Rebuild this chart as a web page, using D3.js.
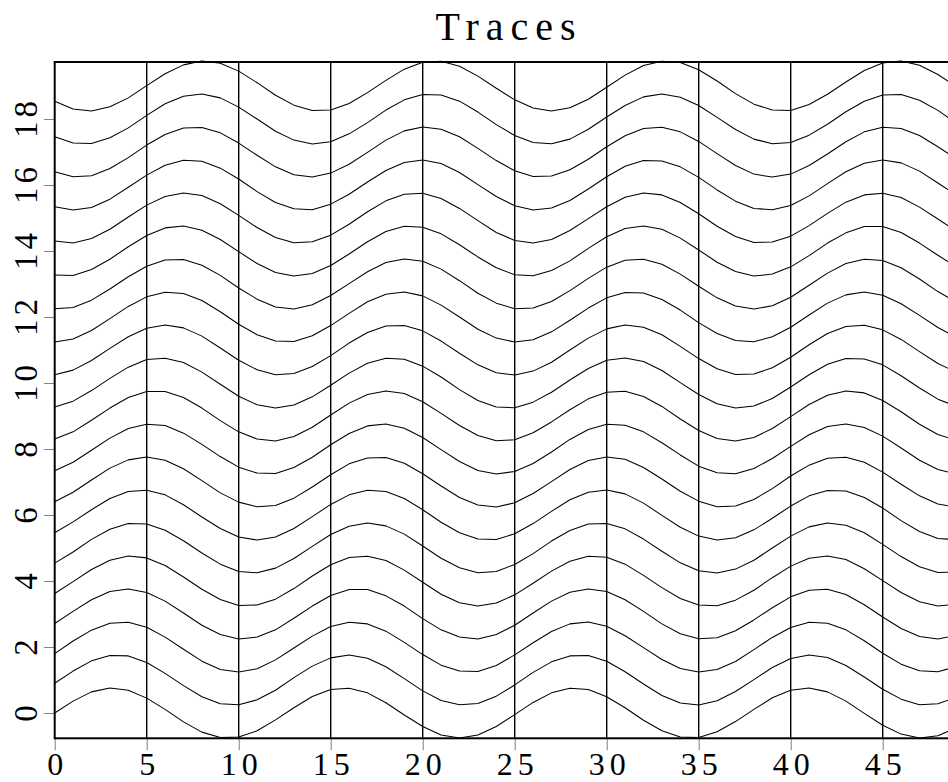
<!DOCTYPE html>
<html><head><meta charset="utf-8">
<script src="https://cdn.jsdelivr.net/npm/d3@7"></script>
<style>html,body{margin:0;padding:0;background:#fff;overflow:hidden}</style>
</head><body><svg id="chart" width="948" height="782"></svg>
<script>
// ---------------- data ----------------
const chartTitle = "Traces";
const xTickValues = [0, 5, 10, 15, 20, 25, 30, 35, 40, 45];
const yTickValues = [0, 2, 4, 6, 8, 10, 12, 14, 16, 18];
const xDomain = [0, 49];
const yDomain = [-0.767, 19.727];
const traceOffsets = [0,1,2,3,4,5,6,7,8,9,10,11,12,13,14,15,16,17,18,19];

const trace00 = [0.00,0.36,0.64,0.76,0.69,0.45,0.11,-0.27,-0.58,-0.74,-0.73,-0.54,-0.21,0.16,0.50,0.71,0.75,0.61,0.31,-0.06,-0.41,-0.67,-0.76,-0.67,-0.41,-0.05,0.32,0.61,0.75,0.71,0.49,0.16,-0.22,-0.54,-0.73,-0.74,-0.57,-0.26,0.11,0.46,0.69,0.76,0.64,0.36,-0.01,-0.37,-0.64,-0.76,-0.69,-0.45];
const trace01 = [-0.10,0.27,0.58,0.74,0.73,0.53,0.20,-0.17,-0.51,-0.72,-0.75,-0.60,-0.31,0.07,0.42,0.67,0.76,0.66,0.40,0.04,-0.33,-0.62,-0.75,-0.71,-0.49,-0.15,0.23,0.55,0.73,0.74,0.57,0.25,-0.12,-0.47,-0.70,-0.76,-0.63,-0.35,0.01,0.38,0.65,0.76,0.68,0.44,0.09,-0.28,-0.58,-0.75,-0.72,-0.53];
const trace02 = [-0.20,0.18,0.51,0.72,0.75,0.60,0.30,-0.07,-0.43,-0.68,-0.76,-0.66,-0.39,-0.03,0.33,0.62,0.75,0.70,0.48,0.14,-0.23,-0.55,-0.73,-0.74,-0.56,-0.24,0.13,0.47,0.70,0.76,0.63,0.34,-0.02,-0.38,-0.65,-0.76,-0.68,-0.44,-0.08,0.29,0.59,0.75,0.72,0.52,0.19,-0.19,-0.52,-0.72,-0.75,-0.59];
const trace03 = [-0.29,0.08,0.43,0.68,0.76,0.65,0.39,0.03,-0.34,-0.62,-0.76,-0.70,-0.48,-0.13,0.24,0.56,0.74,0.74,0.55,0.24,-0.14,-0.48,-0.70,-0.76,-0.62,-0.34,0.03,0.39,0.66,0.76,0.68,0.43,0.08,-0.30,-0.60,-0.75,-0.72,-0.51,-0.18,0.19,0.52,0.72,0.75,0.59,0.28,-0.09,-0.44,-0.68,-0.76,-0.65];
const trace04 = [-0.38,-0.02,0.35,0.63,0.76,0.70,0.47,0.12,-0.25,-0.56,-0.74,-0.73,-0.55,-0.23,0.15,0.49,0.71,0.75,0.62,0.33,-0.04,-0.40,-0.66,-0.76,-0.67,-0.42,-0.07,0.30,0.60,0.75,0.72,0.51,0.17,-0.20,-0.53,-0.73,-0.75,-0.58,-0.28,0.10,0.45,0.69,0.76,0.65,0.37,0.01,-0.35,-0.63,-0.76,-0.70];
const trace05 = [-0.46,-0.12,0.26,0.57,0.74,0.73,0.54,0.22,-0.15,-0.49,-0.71,-0.75,-0.61,-0.32,0.05,0.41,0.66,0.76,0.67,0.42,0.06,-0.31,-0.60,-0.75,-0.71,-0.50,-0.17,0.21,0.53,0.73,0.74,0.58,0.27,-0.10,-0.45,-0.69,-0.76,-0.64,-0.37,0.00,0.36,0.64,0.76,0.69,0.46,0.11,-0.26,-0.57,-0.74,-0.73];
const trace06 = [-0.54,-0.21,0.16,0.50,0.71,0.75,0.61,0.31,-0.06,-0.41,-0.67,-0.76,-0.67,-0.41,-0.05,0.32,0.61,0.75,0.71,0.50,0.16,-0.22,-0.54,-0.73,-0.74,-0.57,-0.26,0.11,0.46,0.69,0.76,0.64,0.36,-0.01,-0.37,-0.64,-0.76,-0.69,-0.45,-0.10,0.27,0.58,0.74,0.73,0.53,0.21,-0.17,-0.50,-0.71,-0.75];
const trace07 = [-0.60,-0.31,0.06,0.42,0.67,0.76,0.66,0.40,0.04,-0.33,-0.61,-0.75,-0.71,-0.49,-0.15,0.22,0.55,0.73,0.74,0.57,0.25,-0.12,-0.47,-0.70,-0.76,-0.63,-0.35,0.01,0.38,0.65,0.76,0.69,0.44,0.09,-0.28,-0.58,-0.75,-0.73,-0.53,-0.20,0.18,0.51,0.72,0.75,0.60,0.30,-0.07,-0.42,-0.67,-0.76];
const trace08 = [-0.66,-0.40,-0.04,0.33,0.62,0.75,0.71,0.48,0.14,-0.23,-0.55,-0.73,-0.74,-0.56,-0.25,0.13,0.47,0.70,0.76,0.63,0.35,-0.02,-0.38,-0.65,-0.76,-0.68,-0.44,-0.09,0.29,0.59,0.75,0.72,0.52,0.19,-0.18,-0.52,-0.72,-0.75,-0.59,-0.29,0.08,0.43,0.68,0.76,0.65,0.39,0.03,-0.34,-0.62,-0.76];
const trace09 = [-0.70,-0.48,-0.13,0.24,0.56,0.74,0.74,0.56,0.24,-0.14,-0.48,-0.70,-0.76,-0.62,-0.34,0.03,0.39,0.65,0.76,0.68,0.43,0.08,-0.29,-0.59,-0.75,-0.72,-0.51,-0.18,0.19,0.52,0.72,0.75,0.59,0.29,-0.09,-0.44,-0.68,-0.76,-0.65,-0.38,-0.02,0.35,0.63,0.76,0.70,0.47,0.13,-0.25,-0.56,-0.74];
const trace10 = [-0.73,-0.55,-0.23,0.14,0.48,0.71,0.75,0.62,0.33,-0.04,-0.40,-0.66,-0.76,-0.67,-0.42,-0.07,0.30,0.60,0.75,0.72,0.51,0.18,-0.20,-0.53,-0.73,-0.75,-0.58,-0.28,0.09,0.44,0.69,0.76,0.65,0.38,0.01,-0.35,-0.63,-0.76,-0.70,-0.47,-0.12,0.25,0.57,0.74,0.73,0.55,0.22,-0.15,-0.49,-0.71];
const trace11 = [-0.75,-0.61,-0.32,0.05,0.40,0.66,0.76,0.67,0.42,0.06,-0.31,-0.60,-0.75,-0.71,-0.50,-0.17,0.21,0.53,0.73,0.74,0.58,0.27,-0.10,-0.45,-0.69,-0.76,-0.64,-0.37,0.00,0.36,0.64,0.76,0.69,0.46,0.11,-0.26,-0.57,-0.74,-0.73,-0.54,-0.22,0.16,0.50,0.71,0.75,0.61,0.32,-0.05,-0.41,-0.67];
const trace12 = [-0.76,-0.67,-0.41,-0.05,0.32,0.61,0.75,0.71,0.50,0.16,-0.22,-0.54,-0.73,-0.74,-0.57,-0.26,0.11,0.46,0.69,0.76,0.64,0.36,0.00,-0.37,-0.64,-0.76,-0.69,-0.45,-0.10,0.27,0.58,0.74,0.73,0.53,0.21,-0.17,-0.50,-0.71,-0.75,-0.60,-0.31,0.06,0.42,0.67,0.76,0.66,0.40,0.05,-0.32,-0.61];
const trace13 = [-0.75,-0.71,-0.49,-0.15,0.22,0.54,0.73,0.74,0.57,0.26,-0.12,-0.46,-0.70,-0.76,-0.63,-0.35,0.01,0.37,0.65,0.76,0.69,0.45,0.10,-0.28,-0.58,-0.75,-0.73,-0.53,-0.20,0.17,0.51,0.72,0.75,0.60,0.30,-0.07,-0.42,-0.67,-0.76,-0.66,-0.40,-0.04,0.33,0.62,0.75,0.71,0.49,0.15,-0.23,-0.55];
const trace14 = [-0.73,-0.74,-0.56,-0.25,0.13,0.47,0.70,0.76,0.63,0.35,-0.02,-0.38,-0.65,-0.76,-0.68,-0.44,-0.09,0.28,0.59,0.75,0.72,0.52,0.19,-0.18,-0.51,-0.72,-0.75,-0.59,-0.30,0.08,0.43,0.68,0.76,0.66,0.39,0.03,-0.34,-0.62,-0.76,-0.70,-0.48,-0.14,0.24,0.55,0.74,0.74,0.56,0.24,-0.13,-0.48];
const trace15 = [-0.70,-0.76,-0.62,-0.34,0.03,0.39,0.65,0.76,0.68,0.43,0.08,-0.29,-0.59,-0.75,-0.72,-0.52,-0.19,0.19,0.52,0.72,0.75,0.59,0.29,-0.08,-0.44,-0.68,-0.76,-0.65,-0.38,-0.02,0.34,0.63,0.76,0.70,0.47,0.13,-0.25,-0.56,-0.74,-0.73,-0.55,-0.23,0.14,0.48,0.70,0.75,0.62,0.33,-0.03,-0.39];
const trace16 = [-0.66,-0.76,-0.68,-0.43,-0.07,0.30,0.60,0.75,0.72,0.51,0.18,-0.20,-0.53,-0.72,-0.75,-0.58,-0.28,0.09,0.44,0.68,0.76,0.65,0.38,0.01,-0.35,-0.63,-0.76,-0.70,-0.47,-0.12,0.25,0.57,0.74,0.73,0.55,0.23,-0.15,-0.49,-0.71,-0.75,-0.62,-0.33,0.04,0.40,0.66,0.76,0.67,0.42,0.06,-0.31];
const trace17 = [-0.60,-0.75,-0.72,-0.50,-0.17,0.21,0.53,0.73,0.74,0.58,0.27,-0.10,-0.45,-0.69,-0.76,-0.64,-0.37,-0.01,0.36,0.64,0.76,0.69,0.46,0.11,-0.26,-0.57,-0.74,-0.73,-0.54,-0.22,0.16,0.49,0.71,0.75,0.61,0.32,-0.05,-0.41,-0.67,-0.76,-0.67,-0.41,-0.06,0.31,0.61,0.75,0.71,0.50,0.16,-0.21];
const trace18 = [-0.54,-0.73,-0.74,-0.57,-0.27,0.11,0.46,0.69,0.76,0.64,0.36,0.00,-0.37,-0.64,-0.76,-0.69,-0.45,-0.11,0.27,0.58,0.74,0.73,0.54,0.21,-0.17,-0.50,-0.71,-0.75,-0.61,-0.31,0.06,0.41,0.67,0.76,0.66,0.41,0.05,-0.32,-0.61,-0.75,-0.71,-0.49,-0.16,0.22,0.54,0.73,0.74,0.57,0.26,-0.12];
const trace19 = [-0.46,-0.70,-0.76,-0.63,-0.36,0.01,0.37,0.64,0.76,0.69,0.45,0.10,-0.28,-0.58,-0.74,-0.73,-0.53,-0.20,0.17,0.51,0.72,0.75,0.60,0.30,-0.07,-0.42,-0.67,-0.76,-0.66,-0.40,-0.04,0.33,0.62,0.75,0.71,0.49,0.15,-0.23,-0.55,-0.73,-0.74,-0.56,-0.25,0.12,0.47,0.70,0.76,0.63,0.35,-0.02];

const traces = [trace00,trace01,trace02,trace03,trace04,trace05,trace06,trace07,trace08,trace09,
                trace10,trace11,trace12,trace13,trace14,trace15,trace16,trace17,trace18,trace19];

// ---------------- drawing ----------------
const svg = d3.select("#chart");
const plotLeft = 54.7, plotRight = 956.3, plotTop = 62, plotBottom = 738.3;
const x = d3.scaleLinear().domain(xDomain).range([plotLeft, plotRight]);
const y = d3.scaleLinear().domain(yDomain).range([plotBottom, plotTop]);
const fontFamily = "'Liberation Serif', 'Times New Roman', serif";

// title
svg.append("text")
  .attr("x", (plotLeft + plotRight) / 2 + 3.5)
  .attr("y", 40)
  .attr("text-anchor", "middle")
  .attr("font-family", fontFamily)
  .attr("font-size", 40)
  .attr("letter-spacing", 7)
  .attr("fill", "#000")
  .text(chartTitle);

// vertical grid lines
svg.append("g").selectAll("line")
  .data(xTickValues.filter(d => d !== 0))
  .join("line")
  .attr("x1", d => x(d)).attr("x2", d => x(d))
  .attr("y1", plotTop).attr("y2", plotBottom)
  .attr("stroke", "#000").attr("stroke-width", 1.4);

// traces
const line = d3.line()
  .x((d, i) => x(i))
  .y(d => y(d));
svg.append("g").selectAll("path")
  .data(traces)
  .join("path")
  .attr("d", (vals, k) => line(vals.map(v => v + traceOffsets[k])))
  .attr("fill", "none")
  .attr("stroke", "#000")
  .attr("stroke-width", 1.05)
  .attr("stroke-linejoin", "round");

// axes (ticks)
const xAxis = d3.axisBottom(x).tickValues(xTickValues).tickSize(12).tickFormat(d => d);
const gx = svg.append("g").attr("transform", `translate(0,${plotBottom})`).call(xAxis);
gx.select(".domain").remove();
gx.selectAll(".tick line").attr("stroke", "#808080").attr("stroke-width", 1);
gx.selectAll(".tick text")
  .attr("y", 36.7).attr("dy", null).attr("dx", 2.5)
  .attr("font-family", fontFamily).attr("font-size", 32)
  .attr("letter-spacing", 5)
  .attr("fill", "#000");

const yAxis = d3.axisLeft(y).tickValues(yTickValues).tickSize(10.7).tickFormat(d => d);
const gy = svg.append("g").attr("transform", `translate(${plotLeft},0)`).call(yAxis);
gy.select(".domain").remove();
gy.selectAll(".tick line").attr("stroke", "#808080").attr("stroke-width", 1);
gy.selectAll(".tick text")
  .attr("x", 0).attr("y", 0).attr("dy", null).attr("dx", 2)
  .attr("text-anchor", "middle")
  .attr("transform", `translate(${37 - plotLeft},0) rotate(-90)`)
  .attr("font-family", fontFamily).attr("font-size", 33)
  .attr("letter-spacing", 4)
  .attr("fill", "#000");

// frame
svg.append("rect")
  .attr("x", plotLeft).attr("y", plotTop)
  .attr("width", plotRight - plotLeft).attr("height", plotBottom - plotTop)
  .attr("fill", "none").attr("stroke", "#000").attr("stroke-width", 2);
</script>
</body></html>
